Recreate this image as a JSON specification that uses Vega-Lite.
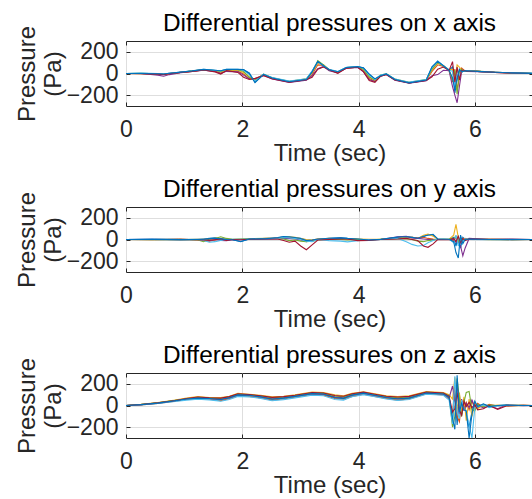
{
"$schema": "https://vega.github.io/schema/vega-lite/v6.json",
"background": "white",
"padding": {"left": 14, "top": 10, "right": 0, "bottom": 0},
"spacing": 10,
"config": {
  "font": "Liberation Sans",
  "view": {"stroke": "#262626", "strokeWidth": 1},
  "title": {"font": "Liberation Sans", "fontSize": 24.4, "fontWeight": "normal", "color": "#000000", "anchor": "middle", "offset": -11},
  "axis": {"labelFont": "Liberation Sans", "labelFontSize": 23, "labelColor": "#262626", "titleFont": "Liberation Sans", "titleFontSize": 24, "titleFontWeight": "normal", "titleColor": "#262626", "domain": false, "tickColor": "#262626", "tickSize": -4, "gridColor": "#dedede", "gridWidth": 1, "labelOverlap": false}
},
"datasets": {
"px": [
{"t":0,"s1":0,"s2":0,"s3":0,"s4":0,"s5":0,"s6":0,"s7":0,"s8":0},
{"t":0.255,"s1":2,"s2":0,"s3":-2,"s4":0,"s5":1,"s6":3,"s7":-1,"s8":0},
{"t":0.549,"s1":-3,"s2":-5,"s3":-4,"s4":-15,"s5":-3,"s6":0,"s7":-6,"s8":-2},
{"t":0.647,"s1":-5,"s2":-8,"s3":-6,"s4":-25,"s5":-5,"s6":-3,"s7":-10,"s8":-4},
{"t":0.746,"s1":2,"s2":0,"s3":-2,"s4":-10,"s5":0,"s6":3,"s7":-2,"s8":3},
{"t":0.942,"s1":12,"s2":10,"s3":10,"s4":8,"s5":12,"s6":14,"s7":10,"s8":13},
{"t":1.138,"s1":22,"s2":20,"s3":22,"s4":18,"s5":24,"s6":23,"s7":20,"s8":24},
{"t":1.335,"s1":36,"s2":32,"s3":34,"s4":30,"s5":35,"s6":38,"s7":33,"s8":38},
{"t":1.531,"s1":28,"s2":22,"s3":26,"s4":20,"s5":28,"s6":30,"s7":15,"s8":30},
{"t":1.629,"s1":22,"s2":5,"s3":15,"s4":0,"s5":20,"s6":24,"s7":-5,"s8":25},
{"t":1.728,"s1":36,"s2":25,"s3":30,"s4":20,"s5":34,"s6":38,"s7":28,"s8":38},
{"t":1.924,"s1":36,"s2":22,"s3":30,"s4":15,"s5":34,"s6":38,"s7":10,"s8":38},
{"t":2.022,"s1":34,"s2":-5,"s3":10,"s4":-15,"s5":20,"s6":30,"s7":-35,"s8":36},
{"t":2.120,"s1":5,"s2":-45,"s3":-30,"s4":-50,"s5":-35,"s6":-10,"s7":-55,"s8":0},
{"t":2.219,"s1":-80,"s2":-55,"s3":-60,"s4":-50,"s5":-65,"s6":-70,"s7":-45,"s8":-85},
{"t":2.366,"s1":-10,"s2":-8,"s3":-12,"s4":-15,"s5":-6,"s6":-5,"s7":-20,"s8":-8},
{"t":2.513,"s1":-40,"s2":-45,"s3":-42,"s4":-50,"s5":-40,"s6":-38,"s7":-48,"s8":-42},
{"t":2.808,"s1":-75,"s2":-78,"s3":-74,"s4":-82,"s5":-72,"s6":-70,"s7":-80,"s8":-76},
{"t":3.102,"s1":-55,"s2":-58,"s3":-52,"s4":-62,"s5":-50,"s6":-50,"s7":-58,"s8":-56},
{"t":3.201,"s1":20,"s2":-10,"s3":5,"s4":-20,"s5":10,"s6":25,"s7":-35,"s8":15},
{"t":3.299,"s1":110,"s2":80,"s3":95,"s4":45,"s5":120,"s6":105,"s7":40,"s8":112},
{"t":3.397,"s1":70,"s2":75,"s3":80,"s4":65,"s5":80,"s6":72,"s7":60,"s8":72},
{"t":3.495,"s1":35,"s2":30,"s3":32,"s4":25,"s5":35,"s6":38,"s7":35,"s8":34},
{"t":3.643,"s1":15,"s2":10,"s3":12,"s4":5,"s5":15,"s6":18,"s7":2,"s8":16},
{"t":3.790,"s1":55,"s2":50,"s3":52,"s4":48,"s5":55,"s6":58,"s7":50,"s8":56},
{"t":3.986,"s1":62,"s2":58,"s3":60,"s4":55,"s5":60,"s6":64,"s7":58,"s8":63},
{"t":4.084,"s1":50,"s2":30,"s3":35,"s4":20,"s5":40,"s6":48,"s7":15,"s8":52},
{"t":4.183,"s1":-10,"s2":-45,"s3":-35,"s4":-55,"s5":-30,"s6":-15,"s7":-65,"s8":-5},
{"t":4.281,"s1":-50,"s2":-70,"s3":-65,"s4":-75,"s5":-60,"s6":-55,"s7":-82,"s8":-50},
{"t":4.379,"s1":-20,"s2":-22,"s3":-18,"s4":-25,"s5":-15,"s6":-15,"s7":-25,"s8":-20},
{"t":4.477,"s1":-5,"s2":-8,"s3":-6,"s4":-10,"s5":-3,"s6":-2,"s7":-10,"s8":-4},
{"t":4.625,"s1":-55,"s2":-58,"s3":-55,"s4":-62,"s5":-52,"s6":-50,"s7":-60,"s8":-56},
{"t":4.870,"s1":-85,"s2":-86,"s3":-84,"s4":-90,"s5":-82,"s6":-80,"s7":-88,"s8":-86},
{"t":5.165,"s1":-60,"s2":-62,"s3":-58,"s4":-66,"s5":-55,"s6":-55,"s7":-64,"s8":-60},
{"t":5.263,"s1":60,"s2":20,"s3":30,"s4":-20,"s5":40,"s6":55,"s7":-30,"s8":62},
{"t":5.361,"s1":115,"s2":80,"s3":95,"s4":-10,"s5":100,"s6":110,"s7":40,"s8":112},
{"t":5.459,"s1":70,"s2":65,"s3":75,"s4":30,"s5":70,"s6":72,"s7":60,"s8":72},
{"t":5.557,"s1":30,"s2":28,"s3":32,"s4":25,"s5":30,"s6":32,"s7":28,"s8":30},
{"t":5.616,"s1":60,"s2":-80,"s3":40,"s4":-120,"s5":-60,"s6":20,"s7":110,"s8":-40},
{"t":5.656,"s1":-180,"s2":40,"s3":-60,"s4":-200,"s5":30,"s6":-120,"s7":-80,"s8":-150},
{"t":5.695,"s1":-60,"s2":-150,"s3":80,"s4":-270,"s5":-190,"s6":30,"s7":60,"s8":-40},
{"t":5.734,"s1":40,"s2":-40,"s3":60,"s4":-120,"s5":20,"s6":-20,"s7":-60,"s8":30},
{"t":5.773,"s1":10,"s2":50,"s3":30,"s4":20,"s5":40,"s6":15,"s7":30,"s8":20},
{"t":5.813,"s1":25,"s2":30,"s3":22,"s4":28,"s5":20,"s6":25,"s7":30,"s8":22},
{"t":5.852,"s1":25,"s2":22,"s3":24,"s4":20,"s5":26,"s6":24,"s7":22,"s8":25},
{"t":6.048,"s1":20,"s2":18,"s3":20,"s4":16,"s5":22,"s6":18,"s7":20,"s8":20},
{"t":6.343,"s1":12,"s2":10,"s3":11,"s4":9,"s5":12,"s6":12,"s7":10,"s8":12},
{"t":6.638,"s1":6,"s2":5,"s3":5,"s4":4,"s5":6,"s6":6,"s7":5,"s8":6},
{"t":7.030,"s1":0,"s2":0,"s3":0,"s4":0,"s5":0,"s6":0,"s7":0,"s8":0}
],
"py": [
{"t":0,"s1":0,"s2":0,"s3":0,"s4":0,"s5":0,"s6":0,"s7":0,"s8":0},
{"t":0.451,"s1":2,"s2":-2,"s3":0,"s4":1,"s5":-1,"s6":2,"s7":0,"s8":1},
{"t":0.942,"s1":-1,"s2":2,"s3":0,"s4":-2,"s5":1,"s6":0,"s7":2,"s8":-1},
{"t":1.237,"s1":0,"s2":-3,"s3":2,"s4":-2,"s5":-5,"s6":0,"s7":-2,"s8":1},
{"t":1.335,"s1":5,"s2":-8,"s3":3,"s4":-5,"s5":-20,"s6":-10,"s7":-4,"s8":2},
{"t":1.433,"s1":10,"s2":-15,"s3":5,"s4":-10,"s5":5,"s6":-25,"s7":-6,"s8":8},
{"t":1.531,"s1":15,"s2":-5,"s3":10,"s4":0,"s5":10,"s6":-20,"s7":-3,"s8":12},
{"t":1.629,"s1":8,"s2":5,"s3":0,"s4":-8,"s5":25,"s6":-10,"s7":5,"s8":6},
{"t":1.728,"s1":2,"s2":-3,"s3":5,"s4":-12,"s5":10,"s6":0,"s7":-8,"s8":0},
{"t":1.826,"s1":0,"s2":0,"s3":2,"s4":-3,"s5":3,"s6":2,"s7":0,"s8":-2},
{"t":1.973,"s1":-20,"s2":2,"s3":0,"s4":-2,"s5":5,"s6":3,"s7":-2,"s8":-18},
{"t":2.120,"s1":5,"s2":3,"s3":2,"s4":0,"s5":8,"s6":5,"s7":2,"s8":4},
{"t":2.415,"s1":5,"s2":10,"s3":8,"s4":2,"s5":10,"s6":6,"s7":5,"s8":8},
{"t":2.611,"s1":15,"s2":12,"s3":10,"s4":5,"s5":8,"s6":10,"s7":5,"s8":18},
{"t":2.710,"s1":25,"s2":15,"s3":20,"s4":10,"s5":5,"s6":18,"s7":-10,"s8":28},
{"t":2.808,"s1":20,"s2":18,"s3":25,"s4":8,"s5":-10,"s6":15,"s7":-25,"s8":25},
{"t":2.906,"s1":15,"s2":10,"s3":20,"s4":5,"s5":-5,"s6":10,"s7":-15,"s8":18},
{"t":3.004,"s1":10,"s2":5,"s3":10,"s4":-5,"s5":-15,"s6":0,"s7":-60,"s8":10},
{"t":3.102,"s1":-5,"s2":-10,"s3":0,"s4":-20,"s5":-20,"s6":-15,"s7":-95,"s8":-10},
{"t":3.201,"s1":-10,"s2":-5,"s3":-5,"s4":-10,"s5":-15,"s6":-20,"s7":-50,"s8":-5},
{"t":3.299,"s1":0,"s2":5,"s3":5,"s4":0,"s5":-5,"s6":0,"s7":-5,"s8":5},
{"t":3.495,"s1":10,"s2":5,"s3":10,"s4":5,"s5":0,"s6":-10,"s7":0,"s8":12},
{"t":3.692,"s1":15,"s2":10,"s3":5,"s4":10,"s5":0,"s6":-15,"s7":5,"s8":15},
{"t":3.809,"s1":10,"s2":5,"s3":8,"s4":5,"s5":-5,"s6":-22,"s7":5,"s8":10},
{"t":3.986,"s1":5,"s2":0,"s3":5,"s4":-5,"s5":0,"s6":-10,"s7":-10,"s8":5},
{"t":4.183,"s1":-5,"s2":0,"s3":2,"s4":0,"s5":-5,"s6":0,"s7":-8,"s8":-5},
{"t":4.379,"s1":0,"s2":2,"s3":3,"s4":0,"s5":2,"s6":0,"s7":0,"s8":1},
{"t":4.674,"s1":20,"s2":10,"s3":15,"s4":25,"s5":5,"s6":10,"s7":5,"s8":22},
{"t":4.821,"s1":25,"s2":15,"s3":20,"s4":30,"s5":5,"s6":-20,"s7":10,"s8":25},
{"t":4.919,"s1":20,"s2":20,"s3":20,"s4":15,"s5":0,"s6":-45,"s7":0,"s8":20},
{"t":5.017,"s1":10,"s2":15,"s3":10,"s4":10,"s5":-15,"s6":-60,"s7":-10,"s8":12},
{"t":5.116,"s1":25,"s2":20,"s3":40,"s4":5,"s5":-20,"s6":-55,"s7":-60,"s8":30},
{"t":5.194,"s1":45,"s2":10,"s3":50,"s4":0,"s5":-10,"s6":-30,"s7":-72,"s8":40},
{"t":5.282,"s1":40,"s2":5,"s3":30,"s4":0,"s5":-5,"s6":-10,"s7":-40,"s8":48},
{"t":5.361,"s1":5,"s2":2,"s3":5,"s4":0,"s5":0,"s6":5,"s7":0,"s8":5},
{"t":5.557,"s1":0,"s2":0,"s3":2,"s4":0,"s5":5,"s6":3,"s7":-2,"s8":2},
{"t":5.636,"s1":20,"s2":-10,"s3":40,"s4":0,"s5":10,"s6":-30,"s7":10,"s8":-20},
{"t":5.675,"s1":-60,"s2":20,"s3":140,"s4":-20,"s5":30,"s6":40,"s7":-20,"s8":-120},
{"t":5.715,"s1":30,"s2":-40,"s3":20,"s4":-30,"s5":-20,"s6":-60,"s7":30,"s8":-170},
{"t":5.754,"s1":-80,"s2":10,"s3":-20,"s4":-60,"s5":10,"s6":20,"s7":-30,"s8":40},
{"t":5.793,"s1":20,"s2":-20,"s3":10,"s4":-150,"s5":-10,"s6":-20,"s7":10,"s8":-40},
{"t":5.832,"s1":0,"s2":10,"s3":0,"s4":-80,"s5":0,"s6":5,"s7":-10,"s8":0},
{"t":5.901,"s1":5,"s2":0,"s3":5,"s4":10,"s5":0,"s6":0,"s7":5,"s8":5},
{"t":6.245,"s1":0,"s2":2,"s3":-2,"s4":0,"s5":1,"s6":-1,"s7":2,"s8":0},
{"t":6.638,"s1":1,"s2":-1,"s3":0,"s4":2,"s5":-1,"s6":0,"s7":1,"s8":-1},
{"t":7.030,"s1":0,"s2":0,"s3":0,"s4":0,"s5":0,"s6":0,"s7":0,"s8":0}
],
"pz": [
{"t":0,"s1":0,"s2":0,"s3":0,"s4":0,"s5":0,"s6":0,"s7":0,"s8":0},
{"t":0.255,"s1":8,"s2":6,"s3":10,"s4":7,"s5":9,"s6":5,"s7":8,"s8":8},
{"t":0.549,"s1":25,"s2":20,"s3":28,"s4":22,"s5":25,"s6":18,"s7":24,"s8":22},
{"t":0.844,"s1":45,"s2":40,"s3":50,"s4":42,"s5":48,"s6":38,"s7":45,"s8":44},
{"t":1.040,"s1":62,"s2":55,"s3":68,"s4":58,"s5":60,"s6":50,"s7":64,"s8":60},
{"t":1.237,"s1":70,"s2":62,"s3":82,"s4":68,"s5":74,"s6":58,"s7":78,"s8":68},
{"t":1.433,"s1":65,"s2":58,"s3":74,"s4":62,"s5":68,"s6":52,"s7":70,"s8":64},
{"t":1.629,"s1":55,"s2":45,"s3":74,"s4":58,"s5":64,"s6":40,"s7":68,"s8":55},
{"t":1.777,"s1":75,"s2":62,"s3":86,"s4":70,"s5":80,"s6":56,"s7":82,"s8":72},
{"t":1.924,"s1":100,"s2":88,"s3":112,"s4":98,"s5":104,"s6":84,"s7":108,"s8":98},
{"t":2.120,"s1":95,"s2":84,"s3":104,"s4":92,"s5":98,"s6":80,"s7":100,"s8":94},
{"t":2.317,"s1":82,"s2":70,"s3":94,"s4":80,"s5":87,"s6":66,"s7":90,"s8":80},
{"t":2.513,"s1":60,"s2":50,"s3":80,"s4":62,"s5":70,"s6":44,"s7":75,"s8":58},
{"t":2.710,"s1":70,"s2":60,"s3":86,"s4":72,"s5":78,"s6":54,"s7":82,"s8":68},
{"t":2.906,"s1":85,"s2":76,"s3":99,"s4":86,"s5":92,"s6":70,"s7":95,"s8":84},
{"t":3.201,"s1":112,"s2":102,"s3":124,"s4":110,"s5":117,"s6":96,"s7":120,"s8":110},
{"t":3.397,"s1":105,"s2":96,"s3":119,"s4":104,"s5":112,"s6":90,"s7":115,"s8":106},
{"t":3.593,"s1":75,"s2":65,"s3":99,"s4":80,"s5":87,"s6":55,"s7":93,"s8":72},
{"t":3.741,"s1":65,"s2":58,"s3":90,"s4":72,"s5":80,"s6":50,"s7":85,"s8":66},
{"t":3.888,"s1":95,"s2":84,"s3":112,"s4":98,"s5":104,"s6":80,"s7":108,"s8":96},
{"t":4.084,"s1":115,"s2":104,"s3":126,"s4":112,"s5":120,"s6":100,"s7":123,"s8":114},
{"t":4.281,"s1":95,"s2":84,"s3":109,"s4":92,"s5":100,"s6":80,"s7":104,"s8":94},
{"t":4.477,"s1":72,"s2":64,"s3":89,"s4":76,"s5":82,"s6":60,"s7":86,"s8":74},
{"t":4.674,"s1":62,"s2":50,"s3":82,"s4":65,"s5":72,"s6":46,"s7":78,"s8":60},
{"t":4.870,"s1":70,"s2":60,"s3":89,"s4":72,"s5":80,"s6":55,"s7":84,"s8":68},
{"t":5.165,"s1":118,"s2":108,"s3":129,"s4":115,"s5":122,"s6":104,"s7":125,"s8":116},
{"t":5.459,"s1":108,"s2":98,"s3":119,"s4":105,"s5":112,"s6":94,"s7":115,"s8":106},
{"t":5.557,"s1":80,"s2":60,"s3":100,"s4":70,"s5":90,"s6":50,"s7":85,"s8":75},
{"t":5.616,"s1":-150,"s2":-80,"s3":60,"s4":180,"s5":-200,"s6":-170,"s7":-60,"s8":-120},
{"t":5.656,"s1":120,"s2":200,"s3":260,"s4":40,"s5":-100,"s6":270,"s7":-30,"s8":-220},
{"t":5.695,"s1":-180,"s2":-100,"s3":-50,"s4":200,"s5":250,"s6":-60,"s7":120,"s8":280},
{"t":5.734,"s1":100,"s2":-150,"s3":120,"s4":-80,"s5":60,"s6":-120,"s7":-40,"s8":-60},
{"t":5.773,"s1":-80,"s2":40,"s3":-60,"s4":60,"s5":-100,"s6":50,"s7":-90,"s8":20},
{"t":5.813,"s1":60,"s2":-20,"s3":80,"s4":-50,"s5":30,"s6":-30,"s7":40,"s8":-40},
{"t":5.852,"s1":-80,"s2":30,"s3":-140,"s4":20,"s5":120,"s6":-60,"s7":-10,"s8":-50},
{"t":5.901,"s1":-200,"s2":-40,"s3":60,"s4":-20,"s5":130,"s6":-180,"s7":30,"s8":-300},
{"t":5.950,"s1":-60,"s2":40,"s3":-100,"s4":50,"s5":-40,"s6":-300,"s7":-20,"s8":-80},
{"t":5.999,"s1":30,"s2":-30,"s3":20,"s4":-10,"s5":-50,"s6":-20,"s7":10,"s8":40},
{"t":6.048,"s1":-20,"s2":20,"s3":-30,"s4":10,"s5":10,"s6":-10,"s7":-40,"s8":-10},
{"t":6.147,"s1":10,"s2":-15,"s3":5,"s4":-25,"s5":-10,"s6":5,"s7":-30,"s8":15},
{"t":6.245,"s1":-5,"s2":10,"s3":-10,"s4":0,"s5":5,"s6":-20,"s7":0,"s8":-10},
{"t":6.392,"s1":0,"s2":-5,"s3":5,"s4":-30,"s5":0,"s6":-5,"s7":-35,"s8":0},
{"t":6.539,"s1":5,"s2":0,"s3":-5,"s4":5,"s5":2,"s6":0,"s7":-5,"s8":3},
{"t":6.834,"s1":0,"s2":2,"s3":0,"s4":-2,"s5":1,"s6":0,"s7":2,"s8":0},
{"t":7.030,"s1":0,"s2":0,"s3":0,"s4":0,"s5":0,"s6":0,"s7":0,"s8":0}
]
},
"vconcat": [
{
 "width": 407, "height": 65,
 "title": "Differential pressures on x axis",
 "data": {"name": "px"},
 "transform": [{"fold": ["s1","s2","s3","s4","s5","s6","s7","s8"], "as": ["series","p"]}],
 "layer": [
  {"mark": {"type": "line", "strokeWidth": 1.1, "clip": true},
   "encoding": {
    "x": {"field": "t", "type": "quantitative", "scale": {"domain": [0, 7.0], "nice": false, "zero": false}, "axis": {"values": [0,2,4,6], "labelPadding": 16, "title": "Time (sec)", "titlePadding": 0, "grid": true, "labelFlush": false}},
    "y": {"field": "p", "type": "quantitative", "scale": {"domain": [-300, 300], "nice": false}, "axis": {"values": [-200,0,200], "labelPadding": 12, "title": ["Pressure","(Pa)"], "titleLineHeight": 26, "titleAngle": 270, "titleBaseline": "alphabetic", "titleAlign": "center", "titleX": -92, "titleY": 32.5, "grid": true}},
    "color": {"field": "series", "type": "nominal", "scale": {"domain": ["s1","s2","s3","s4","s5","s6","s7","s8"], "range": ["#0072BD","#D95319","#EDB120","#7E2F8E","#77AC30","#4DBEEE","#A2142F","#0072BD"]}, "legend": null}
   }},
  {"mark": {"type": "point", "opacity": 0},
   "encoding": {
    "x": {"field": "t", "type": "quantitative", "axis": {"orient": "top", "values": [0,2,4,6], "labels": false, "title": null, "grid": false}},
    "y": {"field": "p", "type": "quantitative", "axis": {"orient": "right", "values": [-200,0,200], "labels": false, "title": null, "grid": false}}
   }}
 ],
 "resolve": {"axis": {"x": "independent", "y": "independent"}}
},
{
 "width": 407, "height": 65,
 "title": "Differential pressures on y axis",
 "data": {"name": "py"},
 "transform": [{"fold": ["s1","s2","s3","s4","s5","s6","s7","s8"], "as": ["series","p"]}],
 "layer": [
  {"mark": {"type": "line", "strokeWidth": 1.1, "clip": true},
   "encoding": {
    "x": {"field": "t", "type": "quantitative", "scale": {"domain": [0, 7.0], "nice": false, "zero": false}, "axis": {"values": [0,2,4,6], "labelPadding": 16, "title": "Time (sec)", "titlePadding": 0, "grid": true, "labelFlush": false}},
    "y": {"field": "p", "type": "quantitative", "scale": {"domain": [-300, 300], "nice": false}, "axis": {"values": [-200,0,200], "labelPadding": 12, "title": ["Pressure","(Pa)"], "titleLineHeight": 26, "titleAngle": 270, "titleBaseline": "alphabetic", "titleAlign": "center", "titleX": -92, "titleY": 32.5, "grid": true}},
    "color": {"field": "series", "type": "nominal", "scale": {"domain": ["s1","s2","s3","s4","s5","s6","s7","s8"], "range": ["#0072BD","#D95319","#EDB120","#7E2F8E","#77AC30","#4DBEEE","#A2142F","#0072BD"]}, "legend": null}
   }},
  {"mark": {"type": "point", "opacity": 0},
   "encoding": {
    "x": {"field": "t", "type": "quantitative", "axis": {"orient": "top", "values": [0,2,4,6], "labels": false, "title": null, "grid": false}},
    "y": {"field": "p", "type": "quantitative", "axis": {"orient": "right", "values": [-200,0,200], "labels": false, "title": null, "grid": false}}
   }}
 ],
 "resolve": {"axis": {"x": "independent", "y": "independent"}}
},
{
 "width": 407, "height": 65,
 "title": "Differential pressures on z axis",
 "data": {"name": "pz"},
 "transform": [{"fold": ["s1","s2","s3","s4","s5","s6","s7","s8"], "as": ["series","p"]}],
 "layer": [
  {"mark": {"type": "line", "strokeWidth": 1.1, "clip": true},
   "encoding": {
    "x": {"field": "t", "type": "quantitative", "scale": {"domain": [0, 7.0], "nice": false, "zero": false}, "axis": {"values": [0,2,4,6], "labelPadding": 16, "title": "Time (sec)", "titlePadding": 0, "grid": true, "labelFlush": false}},
    "y": {"field": "p", "type": "quantitative", "scale": {"domain": [-300, 300], "nice": false}, "axis": {"values": [-200,0,200], "labelPadding": 12, "title": ["Pressure","(Pa)"], "titleLineHeight": 26, "titleAngle": 270, "titleBaseline": "alphabetic", "titleAlign": "center", "titleX": -92, "titleY": 32.5, "grid": true}},
    "color": {"field": "series", "type": "nominal", "scale": {"domain": ["s1","s2","s3","s4","s5","s6","s7","s8"], "range": ["#0072BD","#D95319","#EDB120","#7E2F8E","#77AC30","#4DBEEE","#A2142F","#0072BD"]}, "legend": null}
   }},
  {"mark": {"type": "point", "opacity": 0},
   "encoding": {
    "x": {"field": "t", "type": "quantitative", "axis": {"orient": "top", "values": [0,2,4,6], "labels": false, "title": null, "grid": false}},
    "y": {"field": "p", "type": "quantitative", "axis": {"orient": "right", "values": [-200,0,200], "labels": false, "title": null, "grid": false}}
   }}
 ],
 "resolve": {"axis": {"x": "independent", "y": "independent"}}
}
]
}
